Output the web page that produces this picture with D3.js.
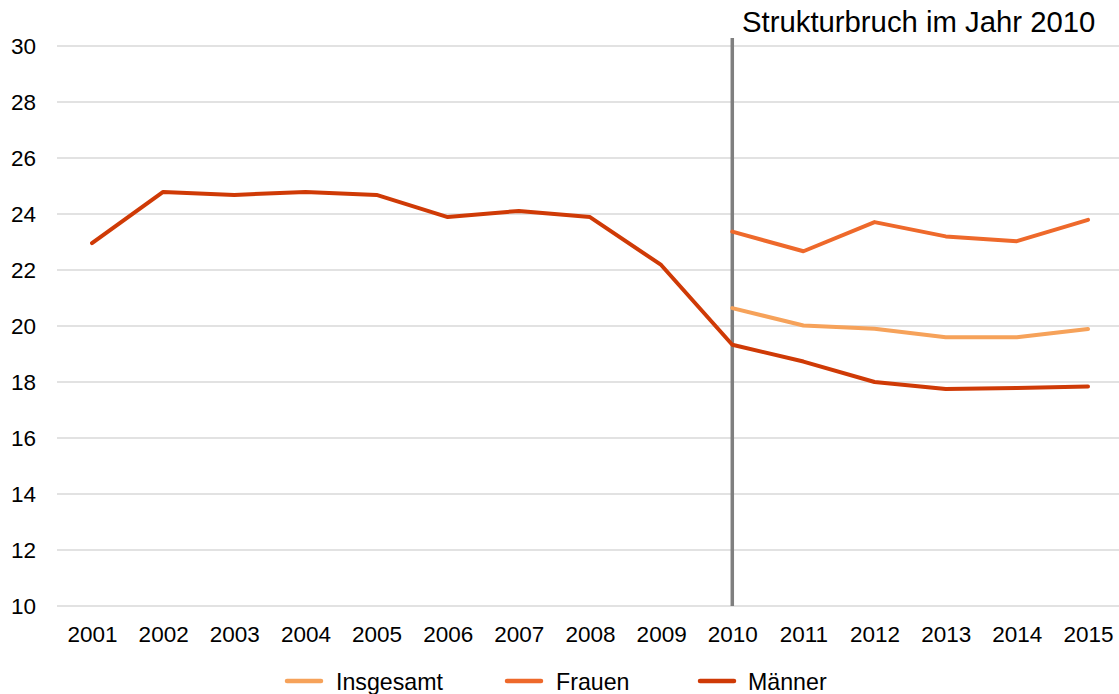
<!DOCTYPE html>
<html><head><meta charset="utf-8">
<script src="https://cdn.jsdelivr.net/npm/d3@7"></script>
<style>body{margin:0;background:#fff}svg{display:block;font-family:"Liberation Sans",Arial,sans-serif}</style>
</head><body><svg id="c" width="1119" height="694"></svg>
<script>
const years = [2001,2002,2003,2004,2005,2006,2007,2008,2009,2010,2011,2012,2013,2014,2015];
const maenner = [22.96,24.79,24.68,24.79,24.68,23.89,24.11,23.89,22.18,19.33,18.73,18.0,17.75,17.79,17.84];
const frauen = [null,null,null,null,null,null,null,null,null,23.37,22.67,23.71,23.2,23.03,23.79];
const insgesamt = [null,null,null,null,null,null,null,null,null,20.64,20.02,19.9,19.6,19.6,19.89];
const yTicks = [10,12,14,16,18,20,22,24,26,28,30];
const seriesNames = ["Insgesamt","Frauen","Männer"];
const seriesColors = ["#F6A25A","#EE692B","#CF3A06"];
const breakYear = 2010;
const annotation = "Strukturbruch im Jahr 2010";

const svg = d3.select("#c");
const x = d3.scaleLinear().domain([2001,2015]).range([92,1088]);
const y = d3.scaleLinear().domain([10,30]).range([606,46]);
const FONT = "Liberation Sans, Arial, sans-serif";

// grid
svg.append("g").selectAll("line").data(yTicks).join("line")
  .attr("x1",57).attr("x2",1119).attr("y1",d=>y(d)).attr("y2",d=>y(d))
  .attr("stroke","#d9d9d9").attr("stroke-width",1.3);

// y axis labels
const yAxis = d3.axisLeft(y).tickValues(yTicks).tickSize(0).tickPadding(0);
const ya = svg.append("g").attr("transform","translate(36,0)").call(yAxis);
ya.select(".domain").remove();
ya.selectAll("text").attr("font-size",22.5).attr("fill","#000").attr("font-family",FONT).attr("dy","0.35em");

// x axis labels
const xAxis = d3.axisBottom(x).tickValues(years).tickFormat(d3.format("d")).tickSize(0).tickPadding(0);
const xa = svg.append("g").attr("transform","translate(0,642)").call(xAxis);
xa.select(".domain").remove();
xa.selectAll("text").attr("font-size",22.5).attr("fill","#000").attr("font-family",FONT).attr("dy","0");

// break line
svg.append("line").attr("x1",x(breakYear)).attr("x2",x(breakYear)).attr("y1",38).attr("y2",606)
  .attr("stroke","#7f7f7f").attr("stroke-width",3.5);
svg.append("text").attr("x",742).attr("y",32).attr("font-size",29.3).attr("fill","#000").attr("font-family",FONT).text(annotation);

// lines
const data = [insgesamt, frauen, maenner];
const line = d3.line().defined(d=>d.v!=null).x(d=>x(d.yr)).y(d=>y(d.v));
data.forEach((arr,i)=>{
  svg.append("path").datum(arr.map((v,j)=>({yr:years[j],v})))
    .attr("d",line).attr("fill","none").attr("stroke",seriesColors[i])
    .attr("stroke-width",4).attr("stroke-linejoin","round").attr("stroke-linecap","round");
});

// legend
const legX = [287,507,700];
const legT = [336,556,748];
seriesNames.forEach((n,i)=>{
  svg.append("line").attr("x1",legX[i]).attr("x2",legX[i]+34).attr("y1",681).attr("y2",681)
    .attr("stroke",seriesColors[i]).attr("stroke-width",4.5).attr("stroke-linecap","round");
  svg.append("text").attr("x",legT[i]).attr("y",689.5).attr("font-size",23.2).attr("fill","#000").attr("font-family",FONT).text(n);
});
</script></body></html>
